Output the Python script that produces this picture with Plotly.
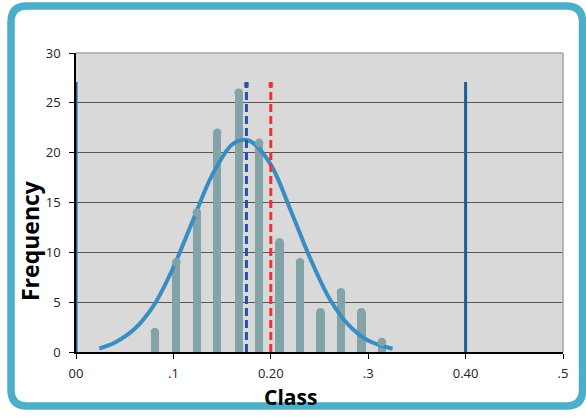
import plotly.graph_objects as go

# ---- data ----
bar_x = [0.081, 0.103, 0.124, 0.145, 0.167, 0.188, 0.209, 0.230, 0.251, 0.272, 0.293, 0.314]
bar_freq = [2, 9, 14, 22, 26, 21, 11, 9, 4, 6, 4, 1]

curve_x = [0.024, 0.04, 0.06, 0.08, 0.10, 0.12, 0.14, 0.16, 0.172, 0.18, 0.20, 0.22, 0.24, 0.26, 0.28, 0.30, 0.325]
curve_y = [0.35, 0.95, 2.3, 4.7, 8.5, 13.2, 17.8, 20.8, 21.3, 21.1, 18.8, 14.3, 9.5, 5.4, 2.7, 1.15, 0.33]

mean_x = 0.175
median_x = 0.200
limit_x = [0.0, 0.40]
line_top = 27.1

tick_vals = [0, 0.1, 0.2, 0.3, 0.4, 0.5]
tick_text = ["00", ".1", "0.20", ".3", "0.40", ".5"]

W, H = 586, 418
ML, MR, MT, MB = 76, 23, 53, 66
PW, PH = W - ML - MR, H - MT - MB


def P(px, py):
    return (px - ML) / PW, (H - MB - py) / PH


bar_color = "#82A4A9"
fig = go.Figure()

# normal curve
fig.add_trace(go.Scatter(x=curve_x, y=curve_y, mode="lines", line=dict(color="#3A8DC4", width=4, shape="spline"),
                         hoverinfo="skip", showlegend=False))
# bars
fig.add_trace(go.Bar(x=bar_x, y=bar_freq, width=0.0085, marker=dict(color=bar_color, line=dict(width=0)),
                     showlegend=False))
# rounded caps
fig.add_trace(go.Scatter(x=bar_x, y=bar_freq, mode="markers", marker=dict(color=bar_color, size=8.5, symbol="circle",
                         line=dict(width=0)), cliponaxis=False, showlegend=False, hoverinfo="skip"))
# solid limit lines
for lx in limit_x:
    fig.add_trace(go.Scatter(x=[lx, lx], y=[0, line_top], mode="lines", line=dict(color="#1F5B98", width=3),
                             cliponaxis=False, showlegend=False, hoverinfo="skip"))
# dashed lines
for lx, col in [(mean_x, "#2752A8"), (median_x, "#EE3030")]:
    fig.add_trace(go.Scatter(x=[lx, lx], y=[0, line_top], mode="lines", line=dict(color=col, width=3, dash="8px,4px"),
                             cliponaxis=False, showlegend=False, hoverinfo="skip"))
    fig.add_trace(go.Scatter(x=[lx, lx], y=[line_top - 0.3, -0.2], mode="markers",
                             marker=dict(color=col, size=[5, 5], symbol=["square", "triangle-down"], line=dict(width=0)),
                             cliponaxis=False, showlegend=False, hoverinfo="skip"))

# rounded outer frame
L, R, T, B, r = 11, 582.5, 6, 406, 16
def pt(px, py):
    x, y = P(px, py)
    return f"{x:.5f},{y:.5f}"
path = (f"M {pt(L + r, T)} L {pt(R - r, T)} Q {pt(R, T)} {pt(R, T + r)} L {pt(R, B - r)} "
        f"Q {pt(R, B)} {pt(R - r, B)} L {pt(L + r, B)} Q {pt(L, B)} {pt(L, B - r)} L {pt(L, T + r)} "
        f"Q {pt(L, T)} {pt(L + r, T)} Z")

shapes = [
    dict(type="path", xref="paper", yref="paper", path=path, line=dict(color="#4AAFC7", width=7.5), layer="above"),
    dict(type="line", xref="paper", yref="paper", x0=0, x1=1, y0=1, y1=1, line=dict(color="#A6A6A6", width=1.5)),
    dict(type="line", xref="paper", yref="paper", x0=1, x1=1, y0=0, y1=1, line=dict(color="#A6A6A6", width=1.5)),
]

fx, fy = P(30, 241)
cx, cy = P(290, 397)
annotations = [
    dict(text="<b>Frequency</b>", xref="paper", yref="paper", x=fx, y=fy, showarrow=False, textangle=-90,
         font=dict(family="Open Sans", size=23, color="#000"), xanchor="center", yanchor="middle"),
    dict(text="<b>Class</b>", xref="paper", yref="paper", x=cx, y=cy, showarrow=False,
         font=dict(family="Open Sans", size=21, color="#000"), xanchor="center", yanchor="middle"),
]

fig.update_layout(
    width=W, height=H, margin=dict(l=ML, r=MR, t=MT, b=MB),
    paper_bgcolor="white", plot_bgcolor="#D9D9D9",
    shapes=shapes, annotations=annotations, bargap=0,
    font=dict(family="Open Sans", size=13, color="#222"),
    xaxis=dict(range=[0, 0.5], tickvals=tick_vals, ticktext=tick_text, showgrid=False, zeroline=False,
               showline=True, linecolor="#000", linewidth=1.5, ticks="outside", ticklen=5, tickcolor="#000",
               tickwidth=1.2, ticklabelstandoff=4),
    yaxis=dict(range=[0, 30], tickvals=[0, 5, 10, 15, 20, 25, 30], showgrid=True, gridcolor="#555555", gridwidth=1.3,
               zeroline=False, showline=True, linecolor="#000", linewidth=1.5, ticks="outside", ticklen=5,
               tickcolor="#000", tickwidth=1.2, ticklabelstandoff=6),
)

fig.write_html("out.html", config={"displayModeBar": False},
               post_script="document.body.style.margin='0';document.body.style.overflow='hidden';")
